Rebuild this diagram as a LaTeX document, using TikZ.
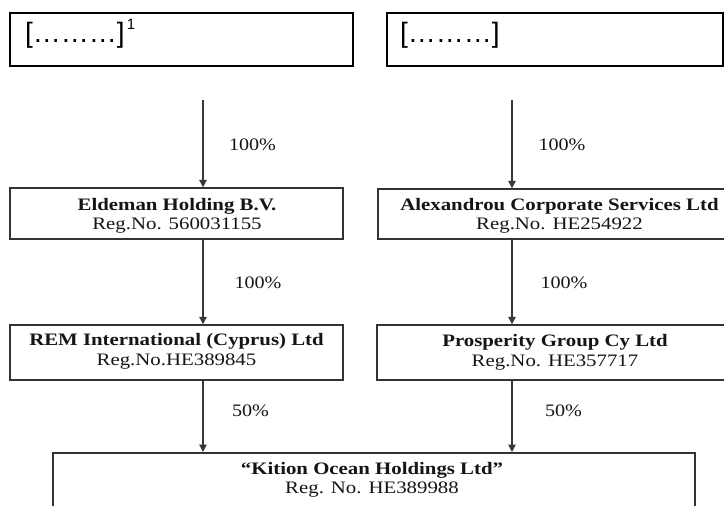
\documentclass[tikz,border=0pt]{standalone}
\usepackage{fontspec}
\setmainfont{Liberation Serif}
\newfontfamily\arialfam{Liberation Sans}
\usetikzlibrary{arrows.meta}
\definecolor{boxgray}{HTML}{333333}
\definecolor{arrgray}{HTML}{383838}
\definecolor{txtgray}{HTML}{151515}
\newcommand{\cotext}[2]{\scalebox{1.19}[1]{\begin{tabular}{@{}c@{}}\textbf{#1}\\#2\end{tabular}}}
\newcommand{\pct}[1]{\scalebox{1.15}[1]{#1}}
\tikzset{
  topbox/.style={draw=black, line width=2pt, inner sep=0pt},
  toptext/.style={anchor=base west, inner sep=0pt, font=\arialfam\fontsize{28}{30}\selectfont},
  cobox/.style={draw=boxgray, line width=1.5pt, inner sep=0pt},
  cotxt/.style={inner sep=0pt, text=txtgray, font=\fontsize{17.5}{19.5}\selectfont},
  pctlbl/.style={anchor=base, inner sep=0pt, text=txtgray, font=\fontsize{17.5}{20}\selectfont},
  owns/.style={draw=arrgray, line width=1.3pt, -{Triangle[width=7.5pt,length=7.5pt]}}
}
\begin{document}
\begin{tikzpicture}[x=1pt,y=-1pt]
\clip (0,0) rectangle (724,506);
\fill[white] (0,0) rectangle (724,506);

% top boxes
\node[topbox, minimum width=343pt, minimum height=53pt] (tl) at (181.5,39.5) {};
\node[topbox, minimum width=336pt, minimum height=53pt] (tr) at (555,39.5) {};
\node[toptext] (tlt) at (25,42) {[………]\hspace{2pt}{\fontsize{15}{15}\selectfont\raisebox{13pt}{1}}};
\node[toptext] (trt) at (400,42) {[………]};

% company boxes
\node[cobox, minimum width=333pt, minimum height=51pt] (eld) at (176.5,213.5) {};
\node[cobox, minimum width=363pt, minimum height=50pt] (alex) at (559.5,214) {};
\node[cobox, minimum width=333pt, minimum height=55pt] (rem) at (176.5,352.5) {};
\node[cobox, minimum width=356pt, minimum height=55pt] (pro) at (555,352.5) {};
\node[cobox, minimum width=642pt, minimum height=80pt, anchor=north] (kit) at (374,452) {};

\node[cotxt] (eldt) at (177,216) {\cotext{Eldeman Holding B.V.}{Reg.No. 560031155}};
\node[cotxt] (alext) at (559.5,216) {\cotext{Alexandrou Corporate Services Ltd}{Reg.No. HE254922}};
\node[cotxt] (remt) at (176.5,351.5) {\cotext{REM International (Cyprus) Ltd}{Reg.No.HE389845}};
\node[cotxt] (prot) at (555,352.5) {\cotext{Prosperity Group Cy Ltd}{Reg.No. HE357717}};
\node[cotxt] (kitt) at (372,480) {\cotext{“Kition Ocean Holdings Ltd”}{Reg. No. HE389988}};

% arrows
\coordinate (a1) at (203,100);
\coordinate (a2) at (512,100);
\draw[owns] (a1) -- (a1 |- eld.north);
\draw[owns] (a2) -- (a2 |- alex.north);
\draw[owns] (eld.south -| a1) -- (rem.north -| a1);
\draw[owns] (alex.south -| a2) -- (pro.north -| a2);
\draw[owns] (rem.south -| a1) -- (kit.north -| a1);
\draw[owns] (pro.south -| a2) -- (kit.north -| a2);

% percentages
\node[pctlbl] (p1) at (252.5,150) {\pct{100\%}};
\node[pctlbl] (p2) at (562,150) {\pct{100\%}};
\node[pctlbl] (p3) at (258,288) {\pct{100\%}};
\node[pctlbl] (p4) at (564,288) {\pct{100\%}};
\node[pctlbl] (p5) at (250.5,416) {\pct{50\%}};
\node[pctlbl] (p6) at (563.5,416) {\pct{50\%}};
\end{tikzpicture}
\end{document}
